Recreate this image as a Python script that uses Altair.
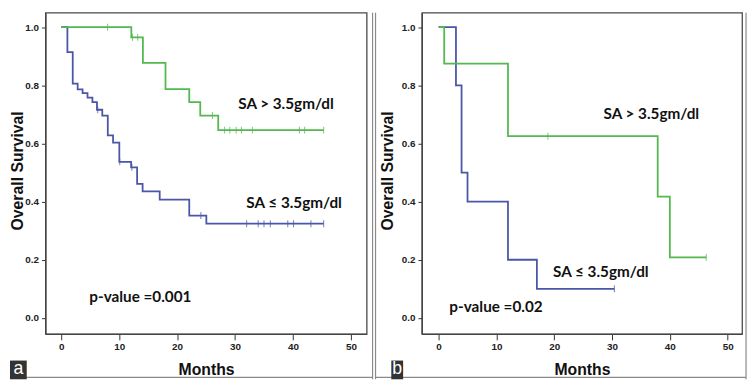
import altair as alt
import pandas as pd

# ---------------- data ----------------
# Panel a : SA > 3.5 gm/dl (green)
a_high_t = [0, 12.1, 14.1, 18.0, 22.1, 24.0, 27.1, 45.3]
a_high_s = [1.0, 0.965, 0.877, 0.787, 0.742, 0.696, 0.646, 0.646]
a_high_cens_t = [8.0, 12.3, 13.2, 26.1, 28.2, 29.1, 30.2, 31.1, 33.0, 41.1, 42.0, 45.3]
a_high_cens_s = [1.0, 0.965, 0.965, 0.696, 0.646, 0.646, 0.646, 0.646, 0.646, 0.646, 0.646, 0.646]
# Panel a : SA <= 3.5 gm/dl (blue)
a_low_t = [0, 1.07, 1.99, 2.84, 3.69, 4.54, 5.39, 6.17, 7.09, 8.04, 8.95, 10.03,
           12.07, 13.1, 14.05, 17.0, 22.1, 25.05, 45.3]
a_low_s = [1.0, 0.914, 0.806, 0.786, 0.773, 0.758, 0.742, 0.716, 0.696, 0.628, 0.603, 0.537,
           0.518, 0.461, 0.435, 0.407, 0.352, 0.324, 0.324]
a_low_cens_t = [6.3, 10.1, 12.2, 24.1, 32.0, 34.0, 35.0, 36.1, 39.1, 40.1, 43.1, 45.3]
a_low_cens_s = [0.716, 0.537, 0.518, 0.352, 0.324, 0.324, 0.324, 0.324, 0.324, 0.324, 0.324, 0.324]

# Panel b : SA > 3.5 gm/dl (green)
b_high_t = [0, 0.97, 12.0, 37.9, 40.0, 46.3]
b_high_s = [1.0, 0.875, 0.625, 0.417, 0.208, 0.208]
b_high_cens_t = [18.9, 46.3]
b_high_cens_s = [0.625, 0.208]
# Panel b : SA <= 3.5 gm/dl (blue)
b_low_t = [0, 3.0, 3.97, 5.0, 12.0, 17.0, 30.4]
b_low_s = [1.0, 0.8, 0.5, 0.4, 0.2, 0.1, 0.1]
b_low_cens_t = [30.4]
b_low_cens_s = [0.1]

# annotations
a_ann_text = ["SA > 3.5gm/dl", "SA \u2264 3.5gm/dl", "p-value =0.001"]
a_ann_t = [38.8, 40.2, 13.66]
a_ann_s = [0.718, 0.379, 0.054]
b_ann_text = ["SA > 3.5gm/dl", "SA \u2264 3.5gm/dl", "p-value =0.02"]
b_ann_t = [36.8, 28.06, 9.93]
b_ann_s = [0.685, 0.1415, 0.0204]

x_ticks = [0, 10, 20, 30, 40, 50]
y_ticks = [0.0, 0.2, 0.4, 0.6, 0.8, 1.0]

GREEN = "#52b84f"
BLUE = "#4a56a8"
BORDER = "#8a8a8a"
Y_DOMAIN = [-0.0553, 1.0498]
H = 326


def panel(width, xdom, hi_t, hi_s, hi_ct, hi_cs, lo_t, lo_s, lo_ct, lo_cs,
          ann_text, ann_t, ann_s, title_x, letter, box_x, box_x2, letter_x, borders):
    xs = alt.Scale(domain=xdom, nice=False, zero=False)
    ys = alt.Scale(domain=Y_DOMAIN, nice=False, zero=False)
    xax = alt.Axis(values=x_ticks, title="Months", grid=False, tickSize=6,
                   labelPadding=2, titlePadding=10, labelFlush=False)
    yax = alt.Axis(values=y_ticks, format=".1f", title="Overall Survival", grid=False,
                   tickSize=4, labelPadding=3, titleX=title_x, titleY=160)

    def enc(ch):
        return ch.encode(x=alt.X("t:Q", scale=xs, axis=xax),
                         y=alt.Y("s:Q", scale=ys, axis=yax))

    lo_df = pd.DataFrame({"t": lo_t, "s": lo_s})
    hi_df = pd.DataFrame({"t": hi_t, "s": hi_s})
    lo_c = pd.DataFrame({"t": lo_ct, "s": lo_cs})
    hi_c = pd.DataFrame({"t": hi_ct, "s": hi_cs})
    ann = pd.DataFrame({"t": ann_t, "s": ann_s, "label": ann_text})

    layers = [
        enc(alt.Chart(lo_df).mark_line(interpolate="step-after", strokeWidth=1.8, color=BLUE)),
        enc(alt.Chart(lo_c).mark_tick(orient="vertical", size=7, thickness=1.1, color=BLUE)),
        enc(alt.Chart(hi_df).mark_line(interpolate="step-after", strokeWidth=1.8, color=GREEN)),
        enc(alt.Chart(hi_c).mark_tick(orient="vertical", size=7, thickness=1.1, color=GREEN)),
        enc(alt.Chart(ann).mark_text(font="Lato", fontWeight="bold", fontSize=15.5,
                                     align="center", baseline="alphabetic", color="#111")
            ).encode(text="label:N"),
    ]
    one = pd.DataFrame({"k": [0]})
    for (x1, y1, x2, y2) in borders:
        layers.append(alt.Chart(one).mark_rule(color=BORDER, strokeWidth=1.2).encode(
            x=alt.value(x1), y=alt.value(y1), x2=alt.value(x2), y2=alt.value(y2)))
    layers.append(alt.Chart(one).mark_rect(color="#333333").encode(
        x=alt.value(box_x), x2=alt.value(box_x2), y=alt.value(353), y2=alt.value(372)))
    layers.append(alt.Chart(one).mark_text(font="Liberation Sans", fontSize=18, color="white",
                                           align="center", baseline="alphabetic").encode(
        x=alt.value(letter_x), y=alt.value(367), text=alt.value(letter)))
    return alt.layer(*layers).properties(width=width, height=H)


left = panel(326, [-2.72, 52.72], a_high_t, a_high_s, a_high_cens_t, a_high_cens_s,
             a_low_t, a_low_s, a_low_cens_t, a_low_cens_s,
             a_ann_text, a_ann_t, a_ann_s, -20, "a", -36, -19, -27.5,
             [(332, 0, 332, 372), (-36, 370, 332, 370)])
right = panel(325, [-2.90, 52.5], b_high_t, b_high_s, b_high_cens_t, b_high_cens_s,
              b_low_t, b_low_s, b_low_cens_t, b_low_cens_s,
              b_ann_text, b_ann_t, b_ann_s, -27, "b", -31, -19, -25,
              [(-47, 0, -47, 372), (-47, 370, 329, 370), (329, 0, 329, 372)])

chart = alt.hconcat(left, right, spacing=56, bounds="flush", padding=0).configure_view(
    stroke="#4a4a4a", strokeWidth=1.3
).configure_axis(
    labelFont="Liberation Sans", labelFontWeight="bold", labelFontSize=10, labelColor="#222",
    tickColor="#333", domainColor="#444", domainWidth=1.3,
    titleFont="Liberation Sans", titleFontWeight="bold", titleFontSize=16, titleColor="#111"
)

chart.save("out.html", embed_options={"renderer": "svg", "actions": False})
